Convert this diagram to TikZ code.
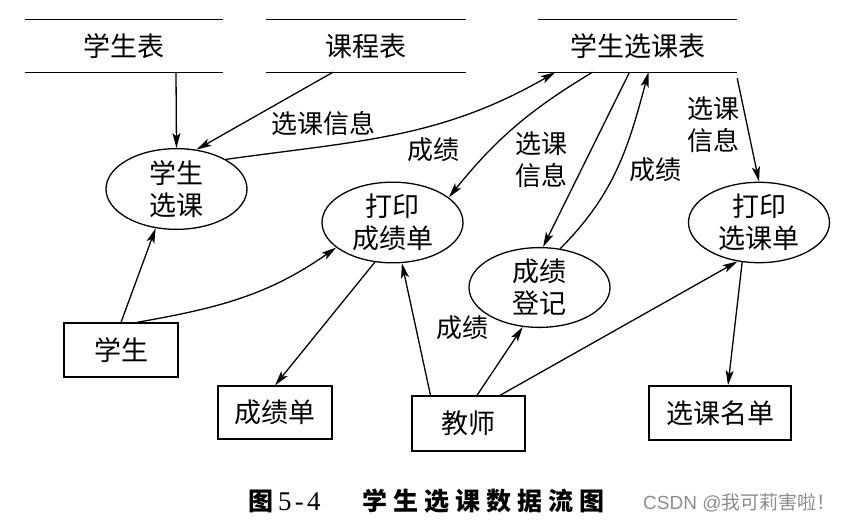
\documentclass[tikz,border=0pt]{standalone}
\usepackage{fontspec}
\setmainfont{Noto Sans CJK SC}
\newfontfamily\capfont{Noto Sans CJK SC}[LetterSpace=24]
\newfontfamily\latinsans{Liberation Sans}
\newfontfamily\serifnum{Liberation Serif}[LetterSpace=12]
\usetikzlibrary{shapes.geometric,arrows.meta,calc}
\begin{document}
\begin{tikzpicture}[x=1pt,y=1pt,
  every node/.style={font=\fontsize{27}{32}\selectfont, inner sep=0pt},
  proc/.style={draw, ellipse, line width=1.3pt, minimum width=141pt, minimum height=79pt, align=center},
  ext/.style={draw, rectangle, line width=1.3pt, minimum height=54pt},
  store/.style={minimum height=52pt},
  storeline/.style={line width=1.3pt},
  flow/.style={line width=1.3pt, -{Stealth[length=15pt,width=8pt,inset=3.5pt]}},
  lbl/.style={align=center, font=\fontsize{26}{32}\selectfont}
]
\useasboundingbox (0,0) rectangle (841,522);
% data stores
\node[store, minimum width=198pt] (s1) at (124,476) {学生表};
\node[store, minimum width=200pt] (s2) at (366,476) {课程表};
\node[store, minimum width=199pt] (s3) at (637.5,476) {学生选课表};
\foreach \s in {s1,s2,s3}{
  \draw[storeline] (\s.north west) -- (\s.north east) (\s.south west) -- (\s.south east);
}
% processes
\node[proc] (e1) at (176.5,333) {学生\\选课};
\node[proc] (e2) at (392.5,299.5) {打印\\成绩单};
\node[proc] (e3) at (539.5,234.5) {成绩\\登记};
\node[proc] (e4) at (759,299.5) {打印\\选课单};
% external entities
\node[ext, minimum width=114pt] (b1) at (121,172) {学生};
\node[ext, minimum width=114pt, minimum height=53pt] (b2) at (275,109.5) {成绩单};
\node[ext, minimum width=113pt, minimum height=55pt] (b3) at (468.5,98.5) {教师};
\node[ext, minimum width=142pt] (b4) at (720,109) {选课名单};
% flows
\draw[flow] ([xshift=52pt]s1.south) -- (e1.north);
\draw[flow] ([xshift=-33pt]s2.south) -- (e1.63);
\draw[flow] (e1.31) to[out=8,in=-150] ([xshift=-82pt]s3.south);
\draw[flow] ([xshift=-45pt]s3.south) to[bend right=10] (e2.24);
\draw[flow] ([xshift=-8pt]s3.south) -- (e3.85);
\draw[flow] (e3.62) to[out=45,in=-105] ([xshift=11pt]s3.south);
\draw[flow] ([yshift=-6pt]s3.south east) -- (e4.north);
\draw[flow] (b1.north) -- (e1.242);
\draw[flow] ([xshift=16pt]b1.north) to[out=10,in=-145] (e2.204);
\draw[flow] (e2.246) -- (b2.north);
\draw[flow] ([xshift=-38pt]b3.north) -- (e2.283);
\draw[flow] ([xshift=8.5pt]b3.north) -- (e3.247);
\draw[flow] ([xshift=31.5pt]b3.north) -- (e4.241);
\draw[flow] (e4.247) -- ([xshift=8pt]b4.north);
% labels
\node[lbl] (l1) at (323,398.5) {选课信息};
\node[lbl] (l2) at (433,372) {成绩};
\node[lbl] (l3) at (541.5,362) {选课\\信息};
\node[lbl] (l4) at (655,352.5) {成绩};
\node[lbl] (l5) at (713.5,397) {选课\\信息};
\node[lbl] (l6) at (462,194) {成绩};
% caption
\node[anchor=west, font=\fontsize{25}{30}\selectfont] (c1) at (248,21) {{\bfseries 图}\hspace{5pt}{\serifnum\mdseries\fontsize{27}{30}\selectfont 5-4}};
\node[anchor=west, font=\fontsize{25}{30}\capfont\bfseries] (c2) at (362,21) {学生选课数据流图};
\node[anchor=west, text=black!45, font=\fontsize{19}{22}\selectfont] (wm) at (643,19) {{\latinsans CSDN @}我可莉害啦！};
\end{tikzpicture}
\end{document}
